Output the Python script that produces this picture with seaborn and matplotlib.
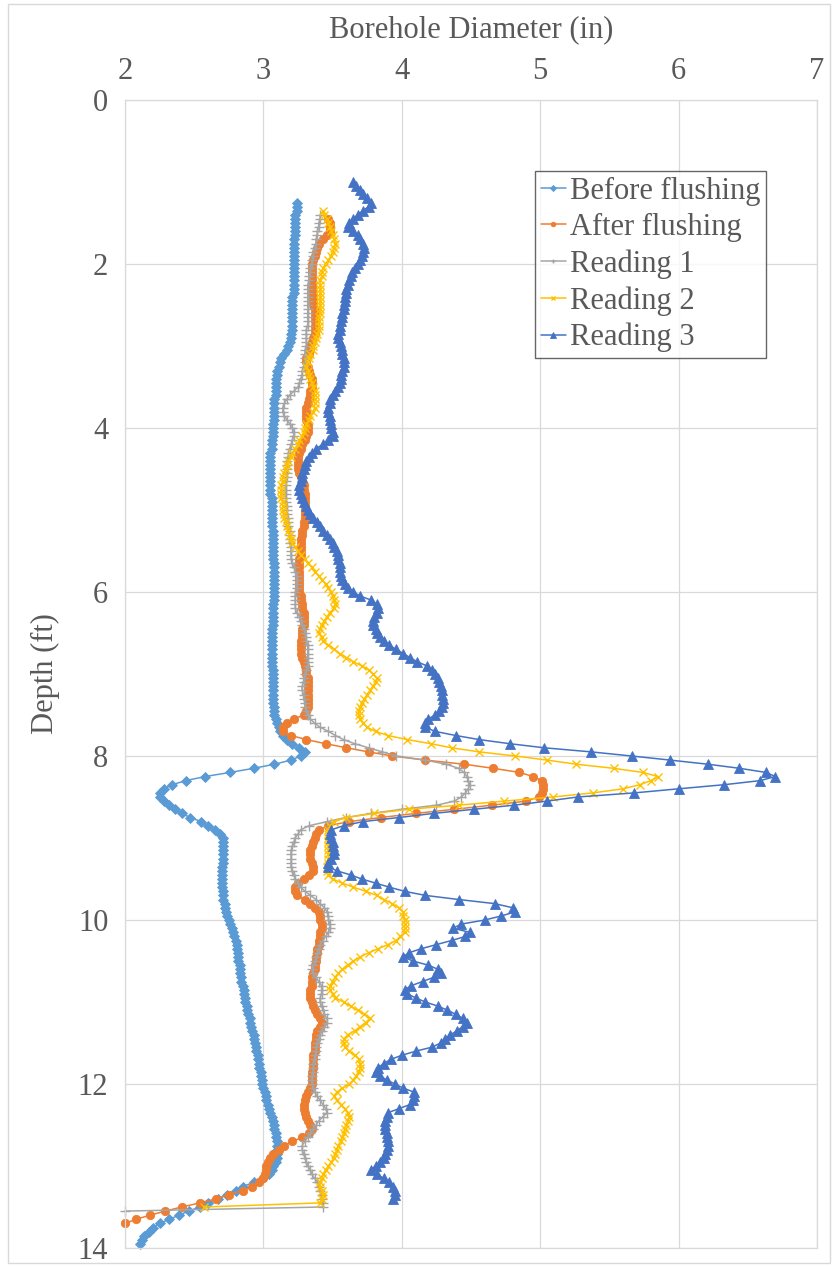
import numpy as np
import pandas as pd
import matplotlib
matplotlib.use("Agg")
import matplotlib.pyplot as plt
from matplotlib.patches import Rectangle
import seaborn as sns

# Caliper readings: diameter (in) sampled every 0.05 ft of depth
STEP = 0.05

before_start = 1.25
before_dia = [
    3.24, 3.24, 3.24, 3.23, 3.23, 3.23, 3.23, 3.23, 3.23, 3.22, 3.22, 3.22, 3.22, 3.22, 3.22, 3.22, 3.22, 3.22,
    3.22, 3.22, 3.22, 3.22, 3.22, 3.21, 3.21, 3.21, 3.21, 3.21, 3.21, 3.21, 3.21, 3.21, 3.20, 3.20, 3.19, 3.18,
    3.17, 3.15, 3.13, 3.12, 3.11, 3.10, 3.10, 3.09, 3.09, 3.09,
    3.09, 3.09, 3.08, 3.08, 3.08, 3.08, 3.08, 3.08, 3.07, 3.07,
    3.07, 3.07, 3.06, 3.06, 3.06, 3.05, 3.05, 3.05, 3.05, 3.05,
    3.05, 3.05, 3.05, 3.05, 3.05, 3.05, 3.06, 3.06, 3.06, 3.06,
    3.06, 3.06, 3.06, 3.06, 3.07, 3.07, 3.07, 3.07, 3.07, 3.07,
    3.07, 3.07, 3.08, 3.08, 3.08, 3.08, 3.08, 3.08, 3.08, 3.08,
    3.08, 3.08, 3.07, 3.07, 3.07, 3.07, 3.07, 3.07, 3.06, 3.06,
    3.06, 3.06, 3.06, 3.06, 3.06, 3.06, 3.06, 3.06, 3.07, 3.07,
    3.07, 3.07, 3.07, 3.07, 3.07, 3.07, 3.07, 3.08, 3.08, 3.08,
    3.09, 3.10, 3.11, 3.12, 3.14, 3.17, 3.21, 3.26, 3.30, 3.27,
    3.20, 3.08, 2.93, 2.76, 2.58, 2.44, 2.34, 2.28, 2.25, 2.25,
    2.28, 2.32, 2.36, 2.41, 2.47, 2.55, 2.60, 2.65, 2.69, 2.71,
    2.71, 2.71, 2.71, 2.71, 2.71, 2.71, 2.70, 2.70, 2.70, 2.70,
    2.70, 2.70, 2.71, 2.71, 2.71, 2.72, 2.72, 2.73, 2.74, 2.75,
    2.76, 2.77, 2.78, 2.79, 2.80, 2.81, 2.81, 2.82, 2.82, 2.82,
    2.83, 2.83, 2.83, 2.84, 2.84, 2.85, 2.86, 2.86, 2.87, 2.87,
    2.88, 2.88, 2.89, 2.90, 2.90, 2.91, 2.92, 2.93, 2.93, 2.94,
    2.95, 2.95, 2.96, 2.96, 2.97, 2.97, 2.98, 2.98, 2.99, 2.99,
    3.00, 3.01, 3.02, 3.02, 3.03, 3.04, 3.05, 3.06, 3.07, 3.08,
    3.08, 3.09, 3.09, 3.10, 3.10, 3.10, 3.10, 3.10, 3.09, 3.07,
    3.06, 3.04, 3.00, 2.93, 2.85, 2.80, 2.74, 2.67, 2.60, 2.54,
    2.46, 2.39, 2.32, 2.25, 2.20, 2.17, 2.14, 2.12, 2.11,
]

after_start = 1.45
after_dia = [
    3.47, 3.48, 3.48, 3.48, 3.46, 3.43, 3.40, 3.39, 3.38, 3.37, 3.36, 3.35,
    3.35, 3.35, 3.35, 3.35, 3.35, 3.35, 3.35, 3.36, 3.36, 3.36,
    3.37, 3.37, 3.37, 3.37, 3.37, 3.37, 3.37, 3.36, 3.35, 3.34,
    3.34, 3.33, 3.31, 3.31, 3.32, 3.33, 3.34, 3.35, 3.35, 3.35,
    3.34, 3.34, 3.33, 3.32, 3.31, 3.31, 3.31, 3.31, 3.32, 3.32,
    3.32, 3.31, 3.30, 3.28, 3.27, 3.26, 3.25, 3.25, 3.25, 3.25,
    3.26, 3.27, 3.28, 3.29, 3.29, 3.30, 3.30, 3.30, 3.30, 3.30,
    3.30, 3.30, 3.29, 3.29, 3.28, 3.28, 3.27, 3.27, 3.27, 3.27,
    3.27, 3.26, 3.26, 3.26, 3.26, 3.26, 3.26, 3.26, 3.26, 3.26,
    3.27, 3.27, 3.28, 3.28, 3.29, 3.29, 3.29, 3.29, 3.28, 3.28,
    3.28, 3.27, 3.27, 3.27, 3.27, 3.28, 3.29, 3.30, 3.31, 3.31,
    3.32, 3.32, 3.32, 3.32, 3.32, 3.32, 3.32, 3.32, 3.31, 3.29,
    3.22, 3.17, 3.14, 3.14, 3.20, 3.31, 3.45, 3.60, 3.76, 3.93,
    4.17, 4.45, 4.66, 4.85, 4.95, 5.01, 5.02, 5.02, 5.01, 4.99,
    4.90, 4.65, 4.38, 4.10, 3.85, 3.62, 3.47, 3.40, 3.38, 3.37,
    3.36, 3.35, 3.34, 3.34, 3.34, 3.35, 3.36, 3.36, 3.33, 3.29,
    3.25, 3.23, 3.23, 3.24, 3.30, 3.34, 3.37, 3.40, 3.41, 3.41,
    3.42, 3.42, 3.41, 3.41, 3.40, 3.40, 3.39, 3.39, 3.38, 3.38,
    3.37, 3.37, 3.36, 3.35, 3.35, 3.35, 3.34, 3.34, 3.34, 3.35,
    3.36, 3.37, 3.39, 3.41, 3.42, 3.41, 3.39, 3.38, 3.38, 3.37,
    3.37, 3.37, 3.36, 3.36, 3.36, 3.36, 3.35, 3.35, 3.35, 3.35,
    3.34, 3.32, 3.31, 3.30, 3.29, 3.29, 3.30, 3.31, 3.32, 3.34,
    3.35, 3.33, 3.28, 3.21, 3.15, 3.11, 3.07, 3.05, 3.03, 3.02,
    3.02, 3.01, 3.00, 2.97, 2.92, 2.85, 2.75, 2.66, 2.54, 2.41,
    2.29, 2.18, 2.08, 2.00,
]

reading1_start = 1.40
reading1_dia = [
    3.41, 3.41, 3.40, 3.40, 3.39, 3.39, 3.38, 3.38, 3.37, 3.36, 3.36, 3.35, 3.35,
    3.34, 3.34, 3.33, 3.33, 3.32, 3.32, 3.32, 3.32, 3.32, 3.32,
    3.32, 3.32, 3.32, 3.32, 3.32, 3.31, 3.31, 3.31, 3.31, 3.31,
    3.30, 3.30, 3.30, 3.30, 3.29, 3.28, 3.28, 3.27, 3.26, 3.25,
    3.22, 3.19, 3.17, 3.15, 3.14, 3.14, 3.15, 3.17, 3.19, 3.21,
    3.22, 3.22, 3.21, 3.20, 3.19, 3.18, 3.18, 3.17, 3.17, 3.17,
    3.17, 3.17, 3.16, 3.16, 3.16, 3.16, 3.16, 3.16, 3.17, 3.17,
    3.17, 3.18, 3.18, 3.18, 3.19, 3.19, 3.19, 3.19, 3.20, 3.20,
    3.20, 3.20, 3.21, 3.22, 3.23, 3.24, 3.24, 3.24, 3.24, 3.23,
    3.23, 3.23, 3.23, 3.23, 3.24, 3.26, 3.27, 3.28, 3.29, 3.30,
    3.31, 3.31, 3.32, 3.32, 3.32, 3.32, 3.32, 3.32, 3.31, 3.30,
    3.29, 3.29, 3.28, 3.28, 3.29, 3.29, 3.30, 3.30, 3.31, 3.32,
    3.34, 3.37, 3.41, 3.47, 3.52, 3.58, 3.66, 3.76, 3.86, 3.96,
    4.17, 4.32, 4.41, 4.45, 4.47, 4.48, 4.49, 4.48, 4.46, 4.43,
    4.38, 4.25, 4.00, 3.78, 3.60, 3.46, 3.33, 3.27, 3.25, 3.23,
    3.22, 3.21, 3.20, 3.20, 3.20, 3.20, 3.20, 3.21, 3.22, 3.23,
    3.25, 3.27, 3.30, 3.34, 3.38, 3.41, 3.44, 3.46, 3.47, 3.47,
    3.48, 3.48, 3.47, 3.45, 3.43, 3.41, 3.40, 3.39, 3.38, 3.37,
    3.36, 3.35, 3.36, 3.38, 3.40, 3.42, 3.42, 3.42, 3.41, 3.41,
    3.42, 3.43, 3.44, 3.46, 3.46, 3.44, 3.42, 3.41, 3.40, 3.39,
    3.38, 3.38, 3.37, 3.37, 3.36, 3.36, 3.36, 3.35, 3.35, 3.35,
    3.36, 3.37, 3.39, 3.41, 3.43, 3.45, 3.46, 3.43, 3.40, 3.38,
    3.36, 3.34, 3.32, 3.30, 3.28, 3.28, 3.29, 3.30, 3.31, 3.32,
    3.34, 3.35, 3.37, 3.39, 3.40, 3.41, 3.42, 3.42, 3.43, 3.43,
    2.00,
]

reading2_start = 1.35
reading2_dia = [
    3.43, 3.44, 3.46, 3.47, 3.48, 3.49, 3.50, 3.51, 3.52, 3.51, 3.50, 3.49, 3.47, 3.45,
    3.43, 3.42, 3.42, 3.41, 3.41, 3.41, 3.41, 3.41, 3.41, 3.41,
    3.41, 3.41, 3.40, 3.40, 3.40, 3.40, 3.39, 3.38, 3.37, 3.36,
    3.36, 3.34, 3.33, 3.32, 3.31, 3.32, 3.33, 3.34, 3.35, 3.36,
    3.37, 3.37, 3.37, 3.37, 3.37, 3.36, 3.34, 3.33, 3.31, 3.30,
    3.29, 3.28, 3.26, 3.25, 3.23, 3.21, 3.20, 3.18, 3.17, 3.16,
    3.15, 3.14, 3.14, 3.13, 3.13, 3.13, 3.13, 3.14, 3.14, 3.14,
    3.15, 3.15, 3.16, 3.17, 3.18, 3.19, 3.20, 3.21, 3.23, 3.25,
    3.27, 3.30, 3.32, 3.35, 3.37, 3.40, 3.42, 3.45, 3.47, 3.49,
    3.50, 3.51, 3.52, 3.51, 3.48, 3.46, 3.44, 3.42, 3.41, 3.40,
    3.42, 3.43, 3.47, 3.51, 3.55, 3.60, 3.65, 3.71, 3.76, 3.79,
    3.82, 3.81, 3.79, 3.77, 3.75, 3.73, 3.71, 3.70, 3.69, 3.69,
    3.70, 3.72, 3.75, 3.81, 3.90, 4.04, 4.21, 4.36, 4.56, 4.82,
    5.05, 5.26, 5.53, 5.74, 5.85, 5.80, 5.72, 5.60, 5.38, 5.09,
    4.74, 4.41, 4.05, 3.80, 3.60, 3.51, 3.48, 3.47, 3.47, 3.47,
    3.47, 3.47, 3.47, 3.47, 3.47, 3.47, 3.46, 3.46, 3.47, 3.50,
    3.57, 3.65, 3.74, 3.82, 3.87, 3.93, 3.98, 4.01, 4.01, 4.02,
    4.02, 4.02, 4.02, 3.99, 3.96, 3.90, 3.83, 3.76, 3.70, 3.65,
    3.61, 3.57, 3.54, 3.52, 3.50, 3.48, 3.48, 3.50, 3.52, 3.58,
    3.63, 3.68, 3.73, 3.77, 3.74, 3.70, 3.66, 3.61, 3.58, 3.58,
    3.59, 3.62, 3.66, 3.69, 3.70, 3.70, 3.69, 3.67, 3.65, 3.62,
    3.57, 3.53, 3.51, 3.53, 3.56, 3.59, 3.61, 3.62, 3.61, 3.60,
    3.59, 3.58, 3.57, 3.56, 3.54, 3.53, 3.52, 3.51, 3.49, 3.47,
    3.45, 3.43, 3.42, 3.41, 3.41, 3.42, 3.43, 3.42, 3.41, 2.57,
]

reading3_start = 1.00
reading3_dia = [
    3.65, 3.67, 3.70, 3.72, 3.75, 3.78, 3.76, 3.72, 3.68, 3.65, 3.62,
    3.61, 3.65, 3.68, 3.70, 3.72, 3.73, 3.72, 3.71, 3.70, 3.68,
    3.66, 3.64, 3.63, 3.62, 3.61, 3.60, 3.60, 3.59, 3.59, 3.58,
    3.58, 3.57, 3.57, 3.56, 3.55, 3.55, 3.54, 3.54, 3.55, 3.56,
    3.57, 3.57, 3.58, 3.58, 3.58, 3.57, 3.56, 3.56, 3.55, 3.54,
    3.52, 3.50, 3.48, 3.48, 3.47, 3.47, 3.48, 3.48, 3.49, 3.49,
    3.50, 3.50, 3.47, 3.43, 3.38, 3.35, 3.33, 3.31, 3.30, 3.29,
    3.28, 3.28, 3.27, 3.26, 3.26, 3.27, 3.28, 3.29, 3.31, 3.32,
    3.34, 3.36, 3.39, 3.41, 3.43, 3.46, 3.48, 3.50, 3.51, 3.53,
    3.54, 3.54, 3.55, 3.55, 3.55, 3.56, 3.57, 3.59, 3.61, 3.65,
    3.70, 3.78, 3.82, 3.83, 3.82, 3.80, 3.79, 3.79, 3.81, 3.82,
    3.84, 3.87, 3.91, 3.96, 4.01, 4.06, 4.11, 4.18, 4.22, 4.24,
    4.26, 4.27, 4.28, 4.29, 4.29, 4.30, 4.30, 4.29, 4.27, 4.24,
    4.19, 4.17, 4.17, 4.24, 4.39, 4.56, 4.78, 5.03, 5.37, 5.66,
    5.94, 6.21, 6.44, 6.63, 6.70, 6.59, 6.33, 6.00, 5.68, 5.27,
    5.05, 4.81, 4.52, 4.23, 3.98, 3.72, 3.58, 3.49, 3.48, 3.49,
    3.50, 3.50, 3.51, 3.51, 3.49, 3.47, 3.47, 3.53, 3.63, 3.71,
    3.81, 3.91, 4.02, 4.17, 4.41, 4.67, 4.80, 4.82, 4.72, 4.60,
    4.43, 4.37, 4.49, 4.46, 4.36, 4.25, 4.14, 4.05, 4.01, 4.08,
    4.19, 4.26, 4.28, 4.23, 4.15, 4.07, 4.02, 4.04, 4.10, 4.17,
    4.26, 4.33, 4.39, 4.44, 4.47, 4.44, 4.40, 4.35, 4.31, 4.28,
    4.22, 4.10, 4.00, 3.92, 3.87, 3.83, 3.81, 3.84, 3.89, 3.95,
    4.01, 4.09, 4.09, 4.08, 4.06, 3.98, 3.90, 3.89, 3.88, 3.88,
    3.88, 3.89, 3.89, 3.90, 3.90, 3.89, 3.88, 3.87, 3.84, 3.81,
    3.78, 3.82, 3.87, 3.91, 3.94, 3.95, 3.95, 3.94,
]

series_names = ["Before flushing", "After flushing", "Reading 1", "Reading 2", "Reading 3"]
series_data = [
    (before_start, before_dia),
    (after_start, after_dia),
    (reading1_start, reading1_dia),
    (reading2_start, reading2_dia),
    (reading3_start, reading3_dia),
]

x_ticks = [2, 3, 4, 5, 6, 7]
y_ticks = [0, 2, 4, 6, 8, 10, 12, 14]

# Line / marker styling per series
styles = {
    "Before flushing": dict(color="#5B9BD5", marker="D", markersize=5.6, markeredgewidth=0.6),
    "After flushing": dict(color="#ED7D31", marker="o", markersize=6.0, markeredgewidth=0.6),
    "Reading 1": dict(color="#A5A5A5", marker="+", markersize=6.5, markeredgewidth=1.0),
    "Reading 2": dict(color="#FFC000", marker="x", markersize=5.2, markeredgewidth=1.0),
    "Reading 3": dict(color="#4472C4", marker="^", markersize=7.0, markeredgewidth=0.6),
}

frames = []
for name, (start, dia) in zip(series_names, series_data):
    depth = np.round(start + STEP * np.arange(len(dia)), 2)
    frames.append(pd.DataFrame({"series": name, "depth": depth, "diameter": dia}))
df = pd.concat(frames, ignore_index=True)

sns.set_style("white")
plt.rcParams["font.family"] = ["Liberation Serif", "DejaVu Serif"]

W, H = 838, 1267
fig = plt.figure(figsize=(W / 100, H / 100), dpi=100)
ax = fig.add_axes([125 / W, 1 - 1248 / H, 692 / W, 1148 / H])

text_color = "#595959"
grid_color = "#D9D9D9"

for name in series_names:
    sub = df[df["series"] == name]
    st = styles[name]
    sns.lineplot(
        data=sub, x="diameter", y="depth", ax=ax,
        sort=False, estimator=None, errorbar=None, orient="y",
        color=st["color"], marker=st["marker"], markersize=st["markersize"],
        markeredgewidth=st["markeredgewidth"], markeredgecolor=st["color"],
        markerfacecolor=st["color"], linewidth=1.1, label=name, clip_on=False,
    )

ax.set_xlim(2, 7)
ax.set_ylim(14, 0)
ax.set_xticks(x_ticks)
ax.set_yticks(y_ticks)
ax.grid(True, color=grid_color, linewidth=0.9)
ax.set_axisbelow(True)
for sp in ax.spines.values():
    sp.set_color(grid_color)
    sp.set_linewidth(0.9)

ax.xaxis.tick_top()
ax.xaxis.set_label_position("top")
ax.tick_params(axis="both", length=0, labelsize=22, labelcolor=text_color)
ax.tick_params(axis="x", pad=10)
ax.tick_params(axis="y", pad=12)

ax.set_xlabel("Borehole Diameter (in)", fontsize=22, color=text_color)
ax.xaxis.set_label_coords(0.5, 1 + 70 / 1148)
ax.xaxis.label.set_verticalalignment("center")
ax.set_ylabel("Depth (ft)", fontsize=22, color=text_color)
ax.yaxis.set_label_coords(-80 / 692, 0.5)
ax.yaxis.label.set_verticalalignment("center")

handles, labels = ax.get_legend_handles_labels()
leg = ax.legend(
    handles, labels, loc="upper left",
    bbox_to_anchor=((535 - 125) / 692, 1 - (171 - 100) / 1148),
    borderaxespad=0, fontsize=22, frameon=True, fancybox=False,
    handlelength=0.85, handletextpad=0.12, labelspacing=0.24,
    borderpad=0.18, markerscale=0.55,
)
leg.get_frame().set_edgecolor("#404040")
leg.get_frame().set_linewidth(1.0)
for t in leg.get_texts():
    t.set_color(text_color)

# Outer chart border
fig.patches.append(Rectangle((8 / W, 4 / H), (830 - 8) / W, (1263 - 4) / H,
                             transform=fig.transFigure, fill=False,
                             edgecolor=grid_color, linewidth=1.0))

fig.savefig("out.png", dpi=100)
